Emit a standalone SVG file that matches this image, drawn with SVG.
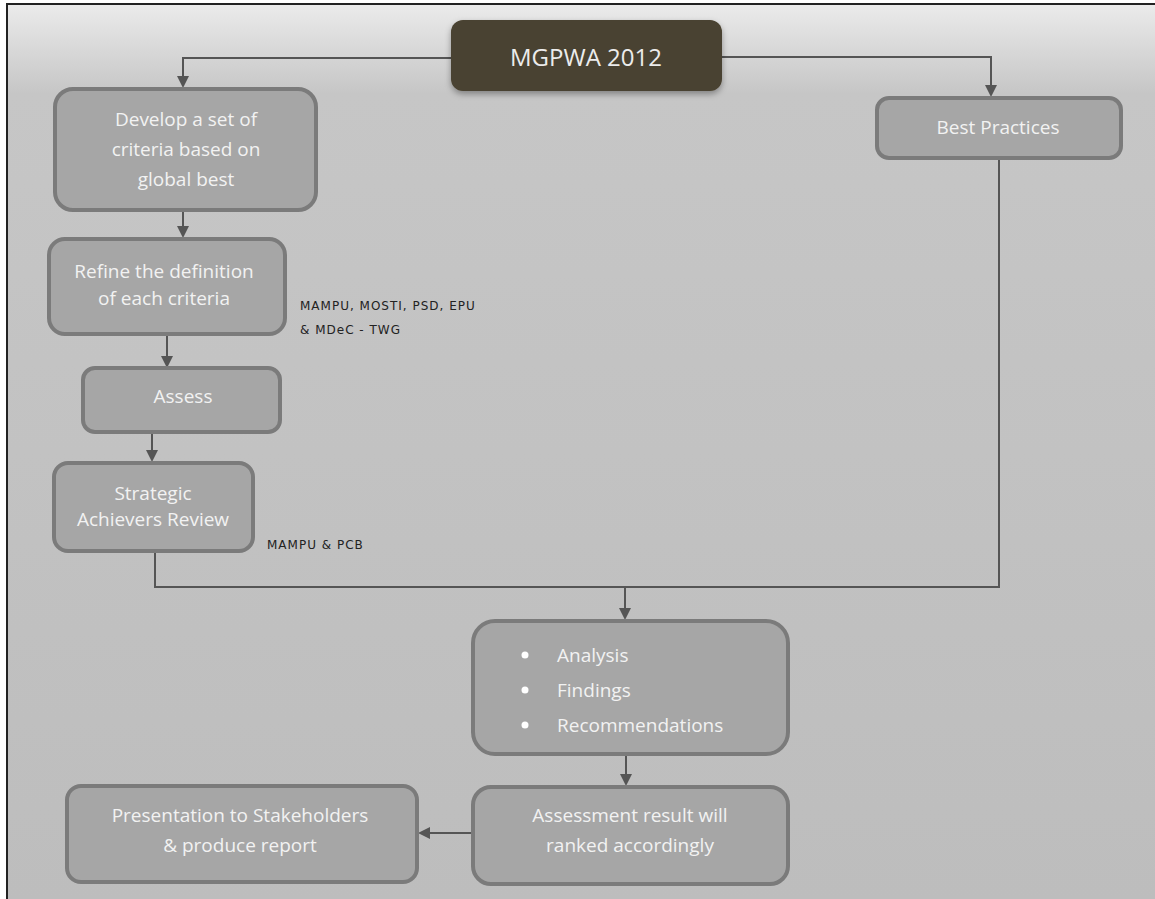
<svg xmlns="http://www.w3.org/2000/svg" width="1155" height="899" viewBox="0 0 1155 899">
<defs>
<linearGradient id="bg" x1="0" y1="0" x2="0" y2="1">
<stop offset="0" stop-color="#ebebeb"/>
<stop offset="0.1" stop-color="#c6c6c6"/>
<stop offset="1" stop-color="#bdbdbd"/>
</linearGradient>
<marker id="ah" markerWidth="12" markerHeight="12" refX="10" refY="6" orient="auto" markerUnits="userSpaceOnUse">
<path d="M0,0 L12,6 L0,12 Z" fill="#555"/>
</marker>
<filter id="sh" x="-10%" y="-20%" width="120%" height="150%">
<feDropShadow dx="0" dy="3" stdDeviation="3" flood-color="#000" flood-opacity="0.35"/>
</filter>
<style>
.box{fill:#a6a6a6;stroke:#7b7b7b;stroke-width:4}
.t{font-family:"Open Sans","Liberation Sans",sans-serif;font-size:19px;fill:#f2f2f2;text-anchor:middle}
.tl{font-family:"Open Sans","Liberation Sans",sans-serif;font-size:19px;fill:#f2f2f2}
.note{font-family:"DejaVu Sans","Liberation Sans",sans-serif;font-size:12px;fill:#222;letter-spacing:1px}
.c{fill:none;stroke:#555;stroke-width:2}
</style>
</defs>
<rect x="0" y="0" width="1155" height="899" fill="#fff"/>
<rect x="7" y="4" width="1148" height="895" fill="url(#bg)"/>
<path d="M7,899 V4 H1155" fill="none" stroke="#222" stroke-width="2"/>

<g id="connectors">
<path class="c" d="M451,58 H183 V86" marker-end="url(#ah)"/>
<path class="c" d="M722,57 H991 V95" marker-end="url(#ah)"/>
<path class="c" d="M183,210 V236" marker-end="url(#ah)"/>
<path class="c" d="M167,335 V366" marker-end="url(#ah)"/>
<path class="c" d="M152,432 V460" marker-end="url(#ah)"/>
<path class="c" d="M155,552 V587 H999 V158"/>
<path class="c" d="M625,587 V618" marker-end="url(#ah)"/>
<path class="c" d="M626,755 V784" marker-end="url(#ah)"/>
<path class="c" d="M472,833 H420" marker-end="url(#ah)"/>
</g>

<g id="mgpwa">
<rect x="451" y="20" width="271" height="71" rx="12" fill="#4a4230" filter="url(#sh)"/>
<text x="586" y="66" font-family="'Open Sans','Liberation Sans',sans-serif" font-size="24" fill="#ececec" text-anchor="middle">MGPWA 2012</text>
</g>

<g id="develop">
<rect class="box" x="55" y="89" width="261" height="121" rx="18"/>
<text class="t" x="186" y="126">Develop a set of</text>
<text class="t" x="186" y="156">criteria based on</text>
<text class="t" x="186" y="186">global best</text>
</g>

<g id="best">
<rect class="box" x="877" y="98" width="244" height="60" rx="12"/>
<text class="t" x="998" y="134">Best Practices</text>
</g>

<g id="refine">
<rect class="box" x="49" y="239" width="236" height="95" rx="16"/>
<text class="t" x="164" y="278">Refine the definition</text>
<text class="t" x="164" y="305">of each criteria</text>
</g>

<g id="note1">
<text class="note" x="300" y="310">MAMPU, MOSTI, PSD, EPU</text>
<text class="note" x="300" y="334">&amp; MDeC - TWG</text>
</g>

<g id="assess">
<rect class="box" x="83" y="368" width="197" height="64" rx="12"/>
<text class="t" x="183" y="403">Assess</text>
</g>

<g id="strategic">
<rect class="box" x="54" y="463" width="199" height="88" rx="14"/>
<text class="t" x="153" y="500">Strategic</text>
<text class="t" x="153" y="526">Achievers Review</text>
</g>

<g id="note2">
<text class="note" x="267" y="549">MAMPU &amp; PCB</text>
</g>

<g id="analysis">
<rect class="box" x="473" y="621" width="315" height="133" rx="22"/>
<circle cx="525" cy="655" r="3.5" fill="#fff"/>
<circle cx="525" cy="690" r="3.5" fill="#fff"/>
<circle cx="525" cy="725" r="3.5" fill="#fff"/>
<text class="tl" x="557" y="662">Analysis</text>
<text class="tl" x="557" y="697">Findings</text>
<text class="tl" x="557" y="732">Recommendations</text>
</g>

<g id="assessment">
<rect class="box" x="473" y="787" width="315" height="97" rx="18"/>
<text class="t" x="630" y="822">Assessment result will</text>
<text class="t" x="630" y="852">ranked accordingly</text>
</g>

<g id="presentation">
<rect class="box" x="67" y="786" width="350" height="96" rx="14"/>
<text class="t" x="240" y="822">Presentation to Stakeholders</text>
<text class="t" x="240" y="852">&amp; produce report</text>
</g>
</svg>
